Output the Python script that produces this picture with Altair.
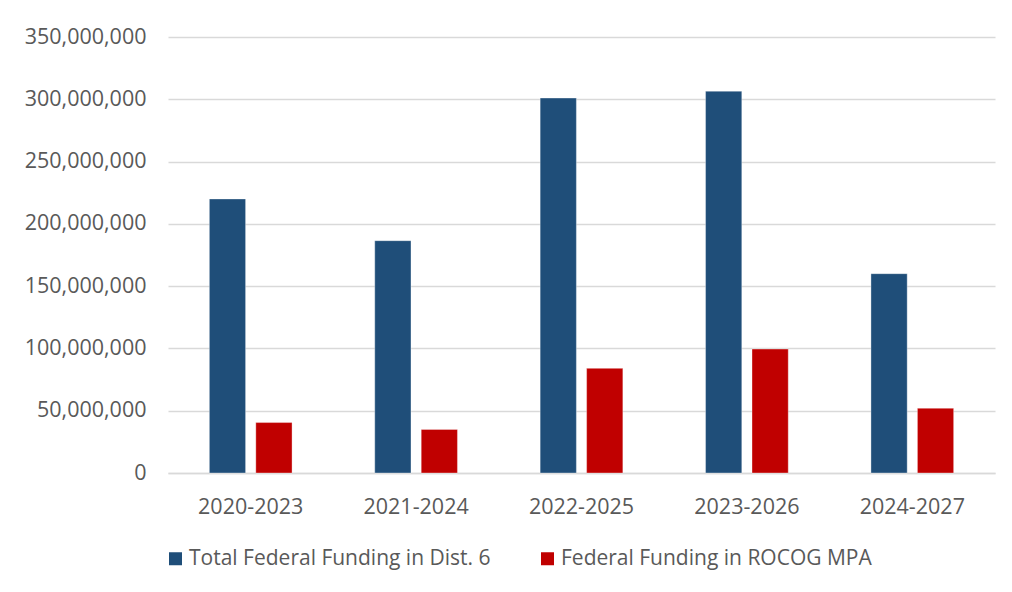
import altair as alt
import pandas as pd

periods = ["2020-2023", "2021-2024", "2022-2025", "2023-2026", "2024-2027"]
series = ["Total Federal Funding in Dist. 6", "Federal Funding in ROCOG MPA"]
total_dist6 = [220000000, 186500000, 301000000, 306500000, 160000000]
rocog_mpa = [40500000, 35000000, 84000000, 99500000, 52000000]
colors = ["#1f4e79", "#c00000"]

rows = []
for p, a, b in zip(periods, total_dist6, rocog_mpa):
    rows.append({"period": p, "series": series[0], "value": a})
    rows.append({"period": p, "series": series[1], "value": b})
df = pd.DataFrame(rows)

FONT = "Open Sans"
GREY = "#595959"
FS = 21.5

chart = alt.Chart(df).mark_bar(stroke="#ffffff", strokeOpacity=0.35, strokeWidth=1).encode(
    x=alt.X("period:N", sort=periods, title=None,
            scale=alt.Scale(paddingInner=0.5, paddingOuter=0.25),
            axis=alt.Axis(labelAngle=0, labelFontSize=FS, labelColor=GREY, labelFont=FONT,
                          ticks=False, domain=True, domainColor="#d9d9d9", domainWidth=1.5,
                          labelPadding=23)),
    xOffset=alt.XOffset("series:N", sort=series, scale=alt.Scale(paddingInner=0.22)),
    y=alt.Y("value:Q", title=None,
            scale=alt.Scale(domain=[0, 350000000]),
            axis=alt.Axis(values=list(range(0, 350000001, 50000000)), format=",.0f",
                          labelFontSize=FS, labelColor=GREY, labelFont=FONT,
                          ticks=False, domain=False, gridColor="#d9d9d9", gridWidth=1.5,
                          labelPadding=22)),
    color=alt.Color("series:N", sort=series,
                    scale=alt.Scale(domain=series, range=colors),
                    legend=alt.Legend(title=None, orient="none", direction="horizontal",
                                      legendX=-3, legendY=511, symbolType="square",
                                      symbolSize=169, symbolStrokeWidth=0,
                                      labelFontSize=21, labelColor=GREY, labelFont=FONT,
                                      labelLimit=500, columnPadding=46, labelOffset=3)),
).properties(
    width=827, height=436,
    padding={"left": 160, "top": 29, "right": 9, "bottom": 111},
    autosize=alt.AutoSizeParams(type="none"),
    background="#ffffff",
).configure_view(stroke=None)

chart.save("out.html", embed_options={"renderer": "svg", "actions": False})
